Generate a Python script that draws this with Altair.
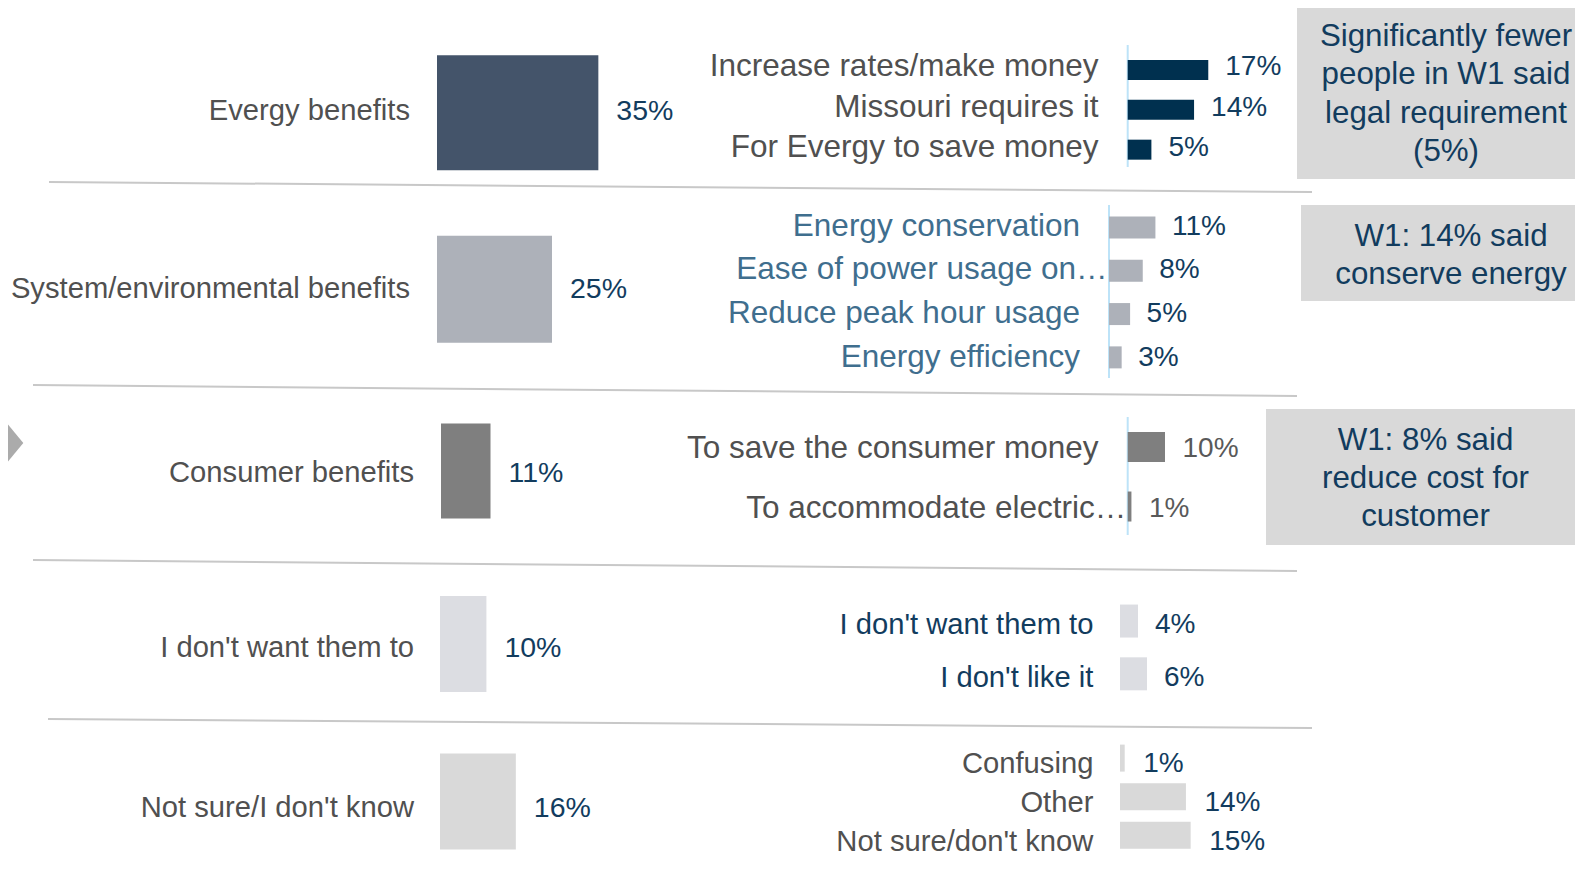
import altair as alt
import pandas as pd

# ---------------- data ----------------
groups = ["Evergy benefits", "System/environmental benefits", "Consumer benefits",
          "I don't want them to", "Not sure/I don't know"]
group_pct = [35, 25, 11, 10, 16]

evergy_items = ["Increase rates/make money", "Missouri requires it", "For Evergy to save money"]
evergy_pct = [17, 14, 5]
system_items = ["Energy conservation", "Ease of power usage on…", "Reduce peak hour usage", "Energy efficiency"]
system_pct = [11, 8, 5, 3]
consumer_items = ["To save the consumer money", "To accommodate electric…"]
consumer_pct = [10, 1]
dontwant_items = ["I don't want them to", "I don't like it"]
dontwant_pct = [4, 6]
notsure_items = ["Confusing", "Other", "Not sure/don't know"]
notsure_pct = [1, 14, 15]

note_evergy = ["Significantly fewer", "people in W1 said", "legal requirement", "(5%)"]
note_system = ["W1: 14% said", "conserve energy"]
note_consumer = ["W1: 8% said", "reduce cost for", "customer"]

sub_items = [evergy_items, system_items, consumer_items, dontwant_items, notsure_items]
sub_pct = [evergy_pct, system_pct, consumer_pct, dontwant_pct, notsure_pct]

# ---------------- style / layout ----------------
W, H = 1567, 848
FONT = "Liberation Sans"
NAVY = "#123c5e"
GRAY_TXT = "#505050"
BLUE_TXT = "#3f6e8e"
DY = 1.5

layout = [
    dict(g0=57.7, step=40.3, mc=101.0, msize=115, ssize=20, mbase=429, mk=4.61, sbase=1119.7, sk=4.74,
         mgap=27, sgap=29.2, vgap=17, bar="#44546a", sub_bar="#00304f", sub_lab=GRAY_TXT, sub_val=NAVY,
         sub_fs=31.5, blue=(37, 159)),
    dict(g0=217.0, step=43.83, mc=279.5, msize=107, ssize=22, mbase=429, mk=4.6, sbase=1101, sk=4.22,
         mgap=27, sgap=29, vgap=16.5, bar="#adb1b9", sub_bar="#adb1b9", sub_lab=BLUE_TXT, sub_val=NAVY,
         sub_fs=31.5, blue=(197, 370)),
    dict(g0=439.3, step=60.1, mc=463.5, msize=95, ssize=30, mbase=433, mk=4.5, sbase=1119.7, sk=3.73,
         mgap=27, sgap=29.2, vgap=17.5, bar="#7f7f7f", sub_bar="#7f7f7f", sub_lab=GRAY_TXT, sub_val="#595959",
         sub_fs=31.5, blue=(409, 527)),
    dict(g0=615.3, step=53.4, mc=638.6, msize=96, ssize=33, mbase=432, mk=4.64, sbase=1112, sk=4.5,
         mgap=26, sgap=26.6, vgap=17, bar="#dcdde2", sub_bar="#dcdde2", sub_lab=NAVY, sub_val=NAVY,
         sub_fs=29.2, blue=None),
    dict(g0=754.0, step=39.0, mc=798.0, msize=96, ssize=27, mbase=432, mk=4.74, sbase=1112, sk=4.71,
         mgap=26, sgap=26.6, vgap=18.5, bar="#d9d9d9", sub_bar="#d9d9d9", sub_lab=GRAY_TXT, sub_val=NAVY,
         sub_fs=29.2, blue=None),
]

separators = [((41, 174), (1304, 184)), ((25, 377), (1289, 388)),
              ((25, 552), (1289, 563)), ((40, 711), (1304, 720))]
boxes = [((1289, 0), (1567, 171)), ((1293, 197), (1567, 293)), ((1258, 401), (1567, 537))]
# (lines, center x, first-line y)
notes = [(note_evergy, 1438, 27.3), (note_system, 1443, 227.0), (note_consumer, 1417.5, 431.0)]

one = pd.DataFrame({"k": [0]})
layers = []

# separators
for (x1, y1), (x2, y2) in separators:
    layers.append(alt.Chart(one).mark_rule(color="#c8c8c8", strokeWidth=2).encode(
        x=alt.value(x1), y=alt.value(y1), x2=alt.value(x2), y2=alt.value(y2)))

# note boxes
for (x1, y1), (x2, y2) in boxes:
    layers.append(alt.Chart(one).mark_rect(color="#d9d9d9").encode(
        x=alt.value(x1), y=alt.value(y1), x2=alt.value(x2), y2=alt.value(y2)))

for lines, cx, cy in notes:
    layers.append(alt.Chart(one).mark_text(
        text=lines, font=FONT, fontSize=31.3, lineHeight=38.4, color=NAVY, dy=DY,
        align="center", baseline="middle").encode(x=alt.value(cx), y=alt.value(cy)))

# arrow on the left edge
layers.append(alt.Chart(one).mark_point(
    shape="M-1,-2.43L1,0L-1,2.43Z", size=234, filled=True, color="#ababab", opacity=1, strokeWidth=0
).encode(x=alt.value(7.65), y=alt.value(435)))

TRUNC = "indexof(datum.item, '…') >= 0"

for i, L in enumerate(layout):
    n = len(sub_items[i])
    sub = pd.DataFrame({"item": sub_items[i], "pct": sub_pct[i], "slot": list(range(n))})
    main = pd.DataFrame({"group": [groups[i]], "pct": [group_pct[i]]})
    ys = alt.Scale(domain=[-L["g0"] / L["step"], (H - L["g0"]) / L["step"]], reverse=True, nice=False, zero=False)
    xm = alt.Scale(domain=[-L["mbase"] / L["mk"], (W - L["mbase"]) / L["mk"]], nice=False, zero=False)
    xs = alt.Scale(domain=[-L["sbase"] / L["sk"], (W - L["sbase"]) / L["sk"]], nice=False, zero=False)
    mslot = (L["mc"] - L["g0"]) / L["step"]

    if L["blue"]:
        layers.append(alt.Chart(main).mark_rule(color="#bde3f8", strokeWidth=2).encode(
            x=alt.XDatum(0, scale=xs, axis=None), y=alt.value(L["blue"][0]), y2=alt.value(L["blue"][1])))

    # main bar + labels
    layers.append(alt.Chart(main).mark_bar(orient="horizontal", size=L["msize"], color=L["bar"]).encode(
        x=alt.X("pct:Q", scale=xm, axis=None), x2=alt.datum(0),
        y=alt.YDatum(mslot, scale=ys, axis=None)))
    layers.append(alt.Chart(main).mark_text(
        align="right", baseline="middle", dx=-L["mgap"], dy=DY, font=FONT, fontSize=29.2, color=GRAY_TXT).encode(
        x=alt.XDatum(0, scale=xm, axis=None), y=alt.YDatum(mslot, scale=ys, axis=None), text="group:N"))
    layers.append(alt.Chart(main).transform_calculate(lab="datum.pct + '%'").mark_text(
        align="left", baseline="middle", dx=18, dy=DY, font=FONT, fontSize=28.5, color=NAVY).encode(
        x=alt.X("pct:Q", scale=xm, axis=None), y=alt.YDatum(mslot, scale=ys, axis=None), text="lab:N"))

    # sub bars + labels
    layers.append(alt.Chart(sub).mark_bar(orient="horizontal", size=L["ssize"], color=L["sub_bar"]).encode(
        x=alt.X("pct:Q", scale=xs, axis=None), x2=alt.datum(0),
        y=alt.Y("slot:Q", scale=ys, axis=None)))
    # full labels
    layers.append(alt.Chart(sub).transform_filter("!(" + TRUNC + ")").mark_text(
        align="right", baseline="middle", dx=-L["sgap"], dy=DY, font=FONT, fontSize=L["sub_fs"],
        color=L["sub_lab"]).encode(
        x=alt.XDatum(0, scale=xs, axis=None), y=alt.Y("slot:Q", scale=ys, axis=None), text="item:N"))
    # truncated labels: the ellipsis runs up to the baseline
    layers.append(alt.Chart(sub).transform_filter(TRUNC).mark_text(
        align="right", baseline="middle", dx=-1.5, dy=DY, font=FONT, fontSize=L["sub_fs"],
        color=L["sub_lab"]).encode(
        x=alt.XDatum(0, scale=xs, axis=None), y=alt.Y("slot:Q", scale=ys, axis=None), text="item:N"))
    layers.append(alt.Chart(sub).transform_calculate(lab="datum.pct + '%'").mark_text(
        align="left", baseline="middle", dx=L["vgap"], dy=DY, font=FONT, fontSize=28, color=L["sub_val"]).encode(
        x=alt.X("pct:Q", scale=xs, axis=None), y=alt.Y("slot:Q", scale=ys, axis=None), text="lab:N"))

chart = alt.layer(*layers).resolve_scale(x="independent", y="independent").properties(
    width=W, height=H, padding=0, autosize=alt.AutoSizeParams(type="none"), background="white"
).configure_view(stroke=None)

chart.save("out.html", embed_options={"renderer": "svg", "actions": False})
